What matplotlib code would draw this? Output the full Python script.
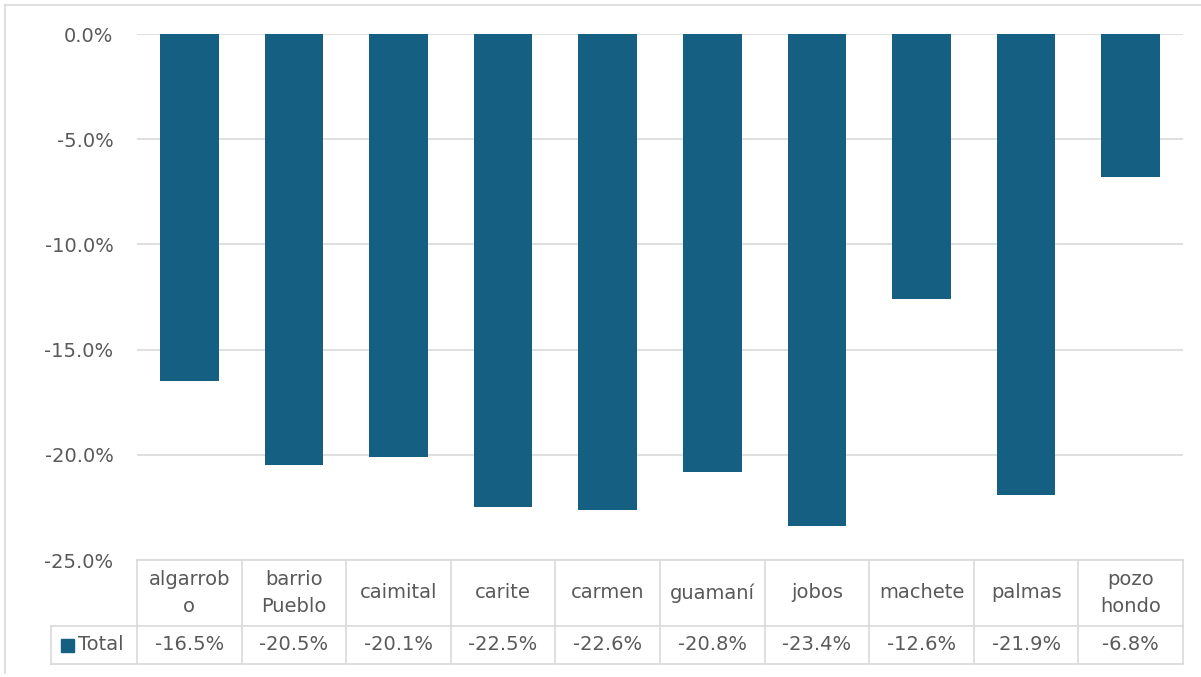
import matplotlib.pyplot as plt
import matplotlib.transforms as mtransforms
from matplotlib.lines import Line2D
from matplotlib.patches import Rectangle

# Data
categories = ["algarrob\no", "barrio\nPueblo", "caimital", "carite", "carmen",
              "guamaní", "jobos", "machete", "palmas", "pozo\nhondo"]
values = [-16.5, -20.5, -20.1, -22.5, -22.6, -20.8, -23.4, -12.6, -21.9, -6.8]
series_name = "Total"
yticks = [0, -5, -10, -15, -20, -25]

bar_color = "#156082"
grid_color = "#d9d9d9"
text_color = "#595959"
fs = 14

plt.rcParams["font.family"] = ["DejaVu Sans"]

W, H = 1201, 677
fig = plt.figure(figsize=(W / 100, H / 100), dpi=100)

# plot area in pixels
left, right, top, bottom = 137, 1183, 34, 560
ax = fig.add_axes([left / W, 1 - bottom / H, (right - left) / W, (bottom - top) / H])

x = range(len(categories))
ax.bar(x, values, width=0.56, color=bar_color, zorder=3)

ax.set_xlim(-0.5, len(categories) - 0.5)
ax.set_ylim(-25, 0)
ax.set_yticks(yticks)
ax.set_yticklabels([f"{v:.1f}%" for v in yticks], fontsize=fs, color=text_color)
ax.tick_params(axis="y", length=0, pad=17)
ax.set_xticks([])
for s in ax.spines.values():
    s.set_visible(False)
ax.yaxis.grid(True, color=grid_color, linewidth=1.2, zorder=0)

# data table under the plot
trans = mtransforms.blended_transform_factory(ax.transData, ax.transAxes)
h = bottom - top
y_top = 0.0
y_mid = -(626 - bottom) / h
y_bot = -(664 - bottom) / h
px_per_cat = (right - left) / len(categories)
x_legend = -0.5 - (left - 51) / px_per_cat
xmax = len(categories) - 0.5

def line(xs, ys):
    ax.add_line(Line2D(xs, ys, transform=trans, color=grid_color, lw=1.2, clip_on=False))

line([-0.5, xmax], [y_top, y_top])
line([x_legend, xmax], [y_mid, y_mid])
line([x_legend, xmax], [y_bot, y_bot])
line([x_legend, x_legend], [y_mid, y_bot])
for i in range(len(categories) + 1):
    line([i - 0.5, i - 0.5], [y_top, y_bot])

for i, (c, v) in enumerate(zip(categories, values)):
    ax.text(i, (y_top + y_mid) / 2, c, transform=trans, ha="center", va="center",
            fontsize=fs, color=text_color, linespacing=1.55, clip_on=False)
    ax.text(i, (y_mid + y_bot) / 2, f"{v:.1f}%", transform=trans, ha="center",
            va="center", fontsize=fs, color=text_color, clip_on=False)

# legend key in the table
key_w = 13 / px_per_cat
key_x = x_legend + 10 / px_per_cat
ym = (y_mid + y_bot) / 2
key_h = 13 / h
ax.add_patch(Rectangle((key_x, ym - key_h / 2), key_w, key_h, transform=trans,
                       color=bar_color, clip_on=False))
ax.text(key_x + key_w + 4 / px_per_cat, ym, series_name, transform=trans,
        ha="left", va="center", fontsize=fs, color=text_color, clip_on=False)

# chart area border (top and left visible)
fig.add_artist(Line2D([5 / W, 1], [1 - 5 / H, 1 - 5 / H], color=grid_color, lw=1.2))
fig.add_artist(Line2D([5 / W, 5 / W], [1 - 5 / H, 1 - 673 / H], color=grid_color, lw=1.2))

fig.savefig("out.png", dpi=100)
